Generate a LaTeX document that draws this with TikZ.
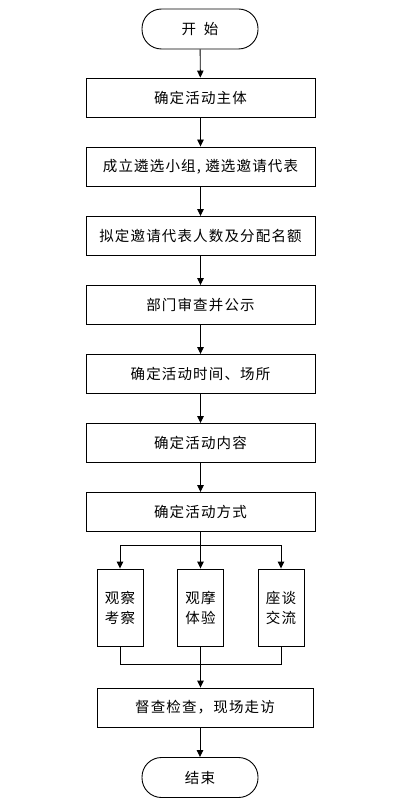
\documentclass[tikz,border=0pt]{standalone}
\usepackage{fontspec}
\newfontfamily\cjk[LetterSpace=8]{Noto Sans CJK SC}
\usetikzlibrary{positioning,arrows.meta}
\begin{document}
\begin{tikzpicture}[x=1pt,y=-1pt,line width=0.9pt,
  font=\cjk\fontsize{14.5}{20}\selectfont,
  box/.style={draw,minimum width=229pt,minimum height=39pt,inner sep=0pt},
  termbox/.style={draw,rounded corners=19.5pt,minimum width=116pt,minimum height=40pt,inner sep=0pt},
  waybox/.style={draw,minimum width=46pt,minimum height=77pt,inner sep=0pt,align=center},
  arr/.style={-{Triangle[length=7pt,width=6.5pt]}}]
\useasboundingbox(0,0)rectangle(408,805);
\node[termbox](start)at(200,29){开\hspace{0.55em}始};
\node[box](n1)at(200.5,97.5){确定活动主体};
\node[box](n2)at(200.5,166.5){成立遴选小组, 遴选邀请代表};
\node[box](n3)at(200.5,236){拟定邀请代表人数及分配名额};
\node[box](n4)at(200.5,305){部门审查并公示};
\node[box](n5)at(200.5,374){确定活动时间、场所};
\node[box](n6)at(200.5,443){确定活动内容};
\node[box](n7)at(200.5,512){确定活动方式};
\node[waybox](b1)at(120,607.5){观察\\考察};
\node[waybox](b2)at(200.5,607.5){观摩\\体验};
\node[waybox](b3)at(281,607.5){座谈\\交流};
\node[box,minimum width=216pt](n8)at(205,707.5){督查检查，现场走访};
\node[termbox](stop)at(200,777.5){结束};
\coordinate(split)at(200.5,545);
\coordinate(join)at(200.5,664);
\foreach \a/\b in {start/n1,n1/n2,n2/n3,n3/n4,n4/n5,n5/n6,n6/n7}
  \draw[arr](\a)--(\b);
\draw(n7)--(split);
\foreach \i in {1,2,3}
  \draw[arr](split)-|(b\i);
\foreach \i in {1,2,3}
  \draw(b\i)|-(join);
\draw[arr](join)--(join|-n8.north);
\draw[arr](n8.south-|stop)--(stop);
\end{tikzpicture}
\end{document}
